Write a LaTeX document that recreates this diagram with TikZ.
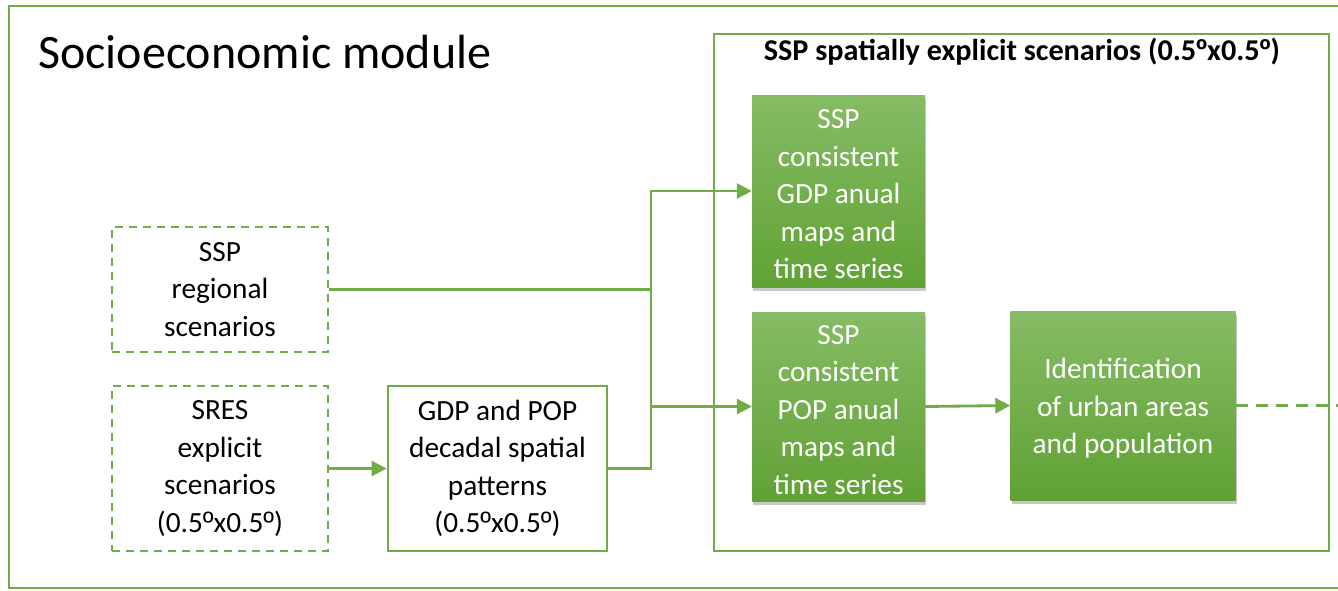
\documentclass[tikz,border=0pt]{standalone}
\usepackage{fontspec}
\setmainfont{Carlito}
\newfontfamily\ordfont{Liberation Sans}
\newcommand{\ordm}{{\ordfont º}}
\usetikzlibrary{arrows.meta,shadows}
\definecolor{gline}{RGB}{112,173,71}
\definecolor{gtop}{RGB}{134,188,101}
\definecolor{gbot}{RGB}{96,161,52}
\tikzset{
  frame/.style={draw=gline,line width=2.8pt},
  boxtext/.style={font=\fontsize{29.3}{37.5}\selectfont,align=center,inner sep=0pt},
  dashbox/.style={boxtext,draw=gline,line width=2.8pt,dash pattern=on 8pt off 6pt,minimum width=216pt},
  plainbox/.style={boxtext,draw=gline,line width=2.8pt,minimum width=219pt},
  greenbox/.style={boxtext,text=white,top color=gtop,bottom color=gbot,draw=none,
    drop shadow={shadow xshift=1pt,shadow yshift=-4pt,opacity=.3,fill=black!70}},
  conn/.style={draw=gline,line width=2.8pt},
  arr/.style={conn,-{Triangle[length=15pt,width=15pt]}},
}
\begin{document}
\begin{tikzpicture}[x=1pt,y=-1pt]
\useasboundingbox (0,0) rectangle (1338,590);
\fill[white] (0,0) rectangle (1338,590);
% outer frame (open to the right edge)
\draw[frame] (1340,6) -- (9,6) -- (9,588) -- (1340,588);
\node[anchor=base west,inner sep=0pt,font=\fontsize{48}{52}\selectfont] (title) at (38,68) {Socioeconomic module};
% inner frame
\node[frame,minimum width=615pt,minimum height=517pt,inner sep=0pt] (ssp) at (1021.5,292.5) {};
\node[inner sep=0pt,font=\bfseries\fontsize{30.2}{32}\selectfont] (ssptitle) at (1022,52) {SSP spatially explicit scenarios (0.5\ordm x0.5\ordm)};
% left boxes
\node[dashbox,minimum height=125pt] (reg) at (220,289.5) {SSP\\regional\\scenarios};
\node[dashbox,minimum height=165pt] (sres) at (220,468.5) {SRES\\explicit\\scenarios\\(0.5\ordm x0.5\ordm)};
\node[plainbox,minimum height=165pt] (dec) at (497.5,468.5) {GDP and POP\\decadal spatial\\patterns\\(0.5\ordm x0.5\ordm)};
% green boxes
\node[greenbox,minimum width=173pt,minimum height=192pt] (gdp) at (838.5,191) {\rule{0pt}{26pt}SSP\\consistent\\GDP anual\\maps and\\time series};
\node[greenbox,minimum width=173pt,minimum height=189pt] (pop) at (838.5,406.5) {\rule{0pt}{26pt}SSP\\consistent\\POP anual\\maps and\\time series};
\node[greenbox,minimum width=225pt,minimum height=189pt] (idn) at (1123,405.5) {\rule{0pt}{26pt}Identification\\of urban areas\\and population};
% connectors
\coordinate (jr) at (651,289.5);
\coordinate (jp) at (651,406.5);
\coordinate (out) at (1340,405.5);
\draw[conn] (reg.east) -- (jr);
\draw[arr] (jr) |- (gdp.west);
\draw[conn] (jr) -- (jp);
\draw[conn] (dec.east) -| (jp);
\draw[arr] (jp) -- (pop.west);
\draw[arr] (sres.east) -- (dec.west);
\draw[arr] (pop.east) -- (idn.west);
\draw[conn,dash pattern=on 12pt off 8pt] (idn.east) -- (out);
\end{tikzpicture}
\end{document}
